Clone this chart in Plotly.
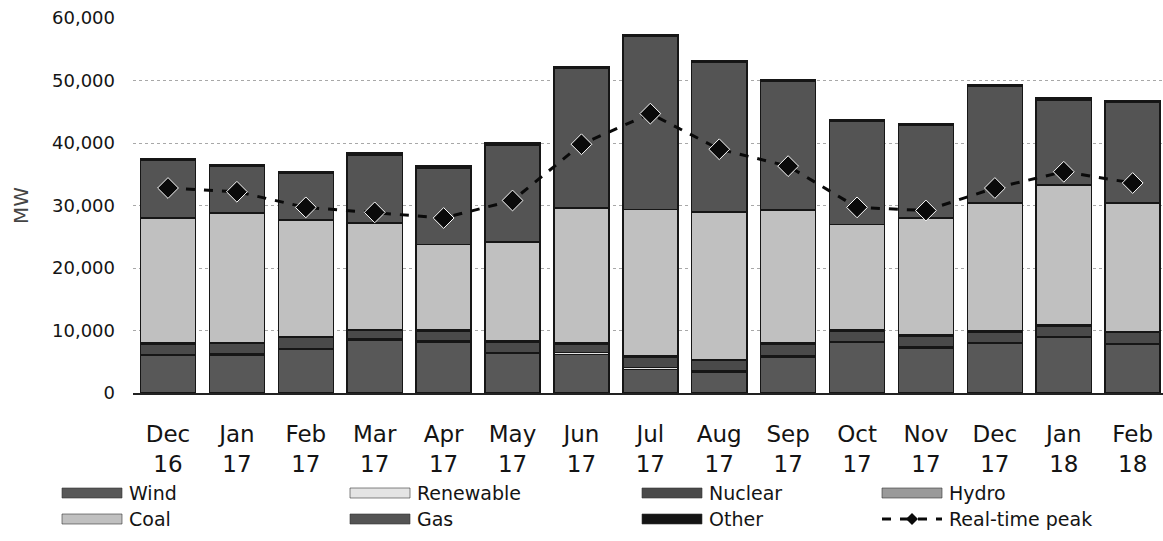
import plotly.graph_objects as go

months = ["Dec", "Jan", "Feb", "Mar", "Apr", "May", "Jun", "Jul", "Aug", "Sep", "Oct", "Nov", "Dec", "Jan", "Feb"]
years = ["16", "17", "17", "17", "17", "17", "17", "17", "17", "17", "17", "17", "17", "18", "18"]
categories = [f"{m} {y}" for m, y in zip(months, years)]
tick_labels = [f"{m}<br>{y}" for m, y in zip(months, years)]

wind = [6000, 6100, 7000, 8500, 8100, 6300, 6200, 3800, 3400, 5800, 8100, 7200, 7900, 8900, 7800]
renewable = [120, 130, 150, 180, 200, 220, 250, 260, 240, 210, 170, 140, 130, 140, 160]
nuclear = [1730, 1720, 1700, 1360, 1620, 1600, 1380, 1680, 1600, 1840, 1690, 1820, 1720, 1710, 1690]
hydro = [150, 150, 150, 160, 180, 180, 170, 160, 160, 150, 140, 140, 150, 150, 150]
coal = [20000, 20700, 18700, 17000, 13700, 15900, 21600, 23500, 23600, 21300, 16900, 18700, 20500, 22400, 20600]
gas = [9200, 7500, 7400, 10900, 12200, 15500, 22300, 27700, 23900, 20600, 16500, 14800, 18700, 13600, 16100]
other = [300, 300, 300, 300, 300, 300, 300, 300, 300, 300, 300, 300, 300, 300, 300]
peak = [32800, 32200, 29700, 28900, 28000, 30800, 39800, 44700, 39000, 36300, 29700, 29200, 32800, 35400, 33600]

series = [
    ("Wind", wind, "#585858"),
    ("Renewable", renewable, "#e4e4e4"),
    ("Nuclear", nuclear, "#4a4a4a"),
    ("Hydro", hydro, "#9a9a9a"),
    ("Coal", coal, "#c0c0c0"),
    ("Gas", gas, "#545454"),
    ("Other", other, "#141414"),
]

FONT = "'DejaVu Sans', Verdana, sans-serif"
TXT = "#141414"

fig = go.Figure()
for name, vals, col in series:
    fig.add_trace(go.Bar(
        x=categories, y=vals, name=name, showlegend=False,
        marker=dict(color=col, line=dict(color="#161616", width=1.5)),
    ))

fig.add_trace(go.Scatter(
    x=categories, y=peak, name="Real-time peak", mode="lines+markers", showlegend=False,
    line=dict(color="#0a0a0a", width=3, dash="dash"),
    marker=dict(symbol="diamond", size=16, color="#0a0a0a", line=dict(color="#ffffff", width=1)),
))

L, R, T, B = 133, 0, 18, 148
W, H = 1163, 541
pw, ph = W - L - R, H - T - B

def px(x):
    return (x - L) / pw

def py(y):
    return (H - B - y) / ph

shapes = []
annotations = []
legend_items = [
    ("Wind", "#585858", 62, 493), ("Renewable", "#e4e4e4", 350, 493),
    ("Nuclear", "#4a4a4a", 642, 493), ("Hydro", "#9a9a9a", 882, 493),
    ("Coal", "#c0c0c0", 62, 519), ("Gas", "#545454", 350, 519),
    ("Other", "#141414", 642, 519),
]
sw, sh = 60, 10
for name, col, x0, yc in legend_items:
    shapes.append(dict(type="rect", xref="paper", yref="paper",
                       x0=px(x0), x1=px(x0 + sw), y0=py(yc - sh / 2), y1=py(yc + sh / 2),
                       fillcolor=col, line=dict(color="#333", width=0.6)))
    annotations.append(dict(xref="paper", yref="paper", x=px(x0 + sw + 5), y=py(yc),
                            text=name, showarrow=False, xanchor="left", yanchor="middle",
                            font=dict(family=FONT, size=19, color=TXT)))
# real-time peak legend entry
x0, yc = 882, 519
shapes.append(dict(type="line", xref="paper", yref="paper", x0=px(x0), x1=px(x0 + sw),
                   y0=py(yc), y1=py(yc), line=dict(color="#0a0a0a", width=3, dash="dash")))
cx, r = x0 + sw / 2, 6
shapes.append(dict(type="path", xref="paper", yref="paper",
                   path=f"M {px(cx - r)},{py(yc)} L {px(cx)},{py(yc - r)} L {px(cx + r)},{py(yc)} L {px(cx)},{py(yc + r)} Z",
                   fillcolor="#0a0a0a", line=dict(color="#0a0a0a", width=0)))
annotations.append(dict(xref="paper", yref="paper", x=px(x0 + sw + 5), y=py(yc),
                        text="Real-time peak", showarrow=False, xanchor="left", yanchor="middle",
                        font=dict(family=FONT, size=19, color=TXT)))

fig.update_layout(
    barmode="stack", bargap=0.2,
    width=W, height=H,
    margin=dict(l=L, r=R, t=T, b=B, autoexpand=False),
    paper_bgcolor="white", plot_bgcolor="white",
    font=dict(family=FONT, color=TXT),
    shapes=shapes, annotations=annotations,
    showlegend=False,
)
fig.update_xaxes(
    type="category", categoryorder="array", categoryarray=categories,
    tickmode="array", tickvals=categories, ticktext=tick_labels,
    range=[-0.508, 14.44],
    tickfont=dict(family=FONT, size=23, color=TXT),
    ticklabelstandoff=20,
    showline=True, linecolor="#222", linewidth=1.5,
    showgrid=False, ticks="",
)
fig.update_yaxes(
    range=[0, 60000], tickvals=[0, 10000, 20000, 30000, 40000, 50000, 60000],
    tickformat=",d",
    tickfont=dict(family=FONT, size=18, color=TXT),
    ticklabelstandoff=17,
    showgrid=True, gridcolor="#a8a8a8", gridwidth=1, griddash="dot",
    zeroline=False,
    title=dict(text="MW", font=dict(family=FONT, size=20, color="#444"), standoff=18),
    automargin=False,
)

fig.write_html("out.html", config={"displayModeBar": False},
               post_script="document.body.style.margin='0';document.body.style.overflow='hidden';")
